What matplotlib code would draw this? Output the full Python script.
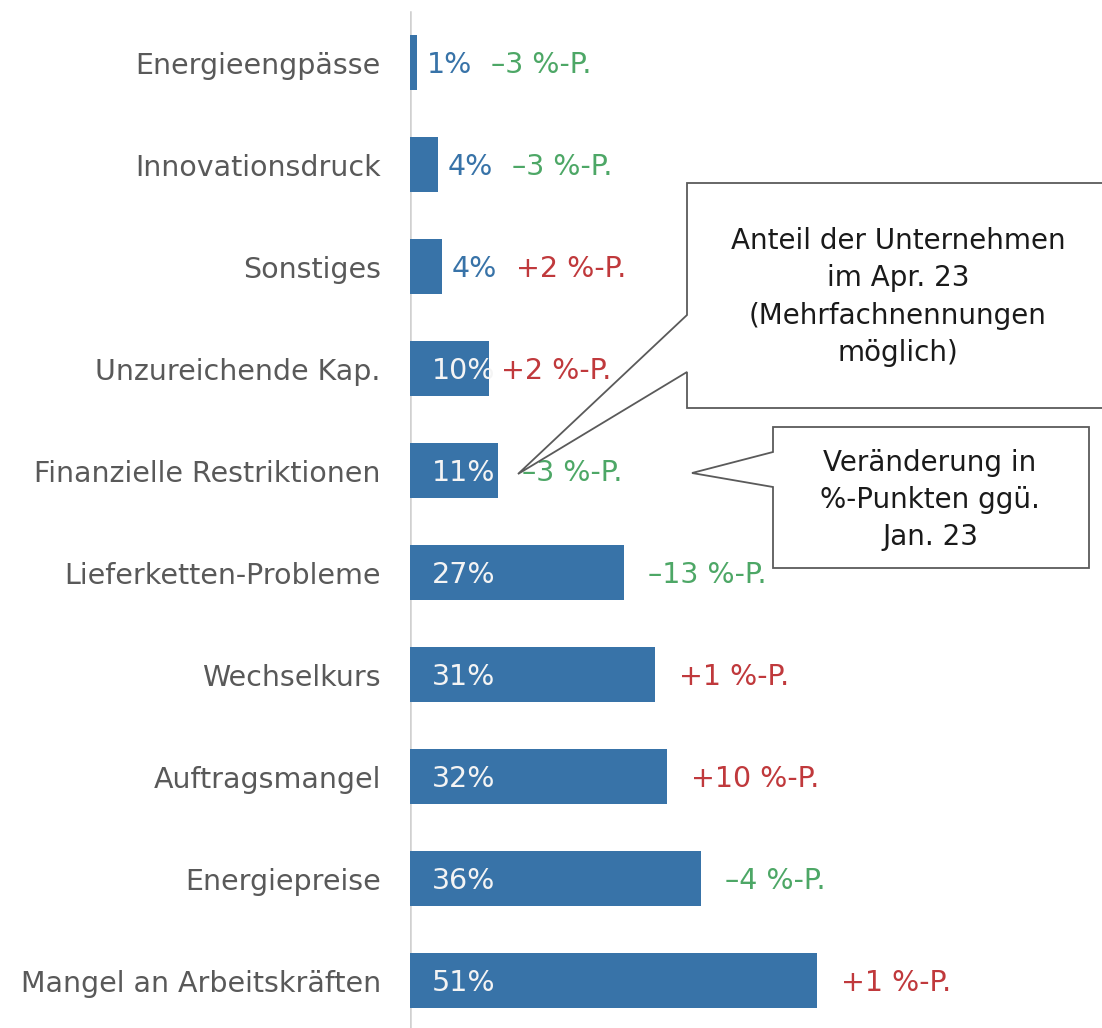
import matplotlib
matplotlib.use("Agg")
import matplotlib.pyplot as plt
from matplotlib.patches import Polygon

# ── data: share of firms naming the obstacle (Apr. 23) and change vs. Jan. 23 ──
categories = [
    "Energieengpässe",
    "Innovationsdruck",
    "Sonstiges",
    "Unzureichende Kap.",
    "Finanzielle Restriktionen",
    "Lieferketten-Probleme",
    "Wechselkurs",
    "Auftragsmangel",
    "Energiepreise",
    "Mangel an Arbeitskräften",
]
share = [0.9, 3.5, 4.0, 9.9, 11.0, 26.8, 30.6, 32.1, 36.4, 50.9]   # %
change = [-3, -3, 2, 2, -3, -13, 1, 10, -4, 1]                     # %-points

callout_share = "Anteil der Unternehmen\nim Apr. 23\n(Mehrfachnennungen\nmöglich)"
callout_change = "Veränderung in\n%-Punkten ggü.\nJan. 23"

BLUE = "#3873a8"
GREEN = "#4da766"
RED = "#c0393c"
GREY = "#595959"
FONT = 20.5

W, H = 1102, 1028
X0 = 410          # pixel position of the zero line
PX = 8.0          # pixels per percentage point
ROW0, STEP = 62.5, 102.0
DY = 2.5 / STEP   # small downward nudge for the bar labels

fig = plt.figure(figsize=(W / 100, H / 100), dpi=100)
fig.patch.set_facecolor("white")
ax = fig.add_axes([X0 / W, 0, 1 - X0 / W, 1])
ax.set_xlim(0, (W - X0) / PX)
ax.set_ylim((H - ROW0) / STEP, -ROW0 / STEP)

rows = list(range(len(categories)))
ax.barh(rows, share, height=0.54, color=BLUE, zorder=2)

for s in ax.spines.values():
    s.set_visible(False)
ax.axvline(0, ymin=0, ymax=1 - 12 / H, color="#d0d0d0", lw=1.8, zorder=1)
ax.set_xticks([])
ax.set_yticks(rows, categories)
ax.tick_params(axis="y", length=0, pad=21, labelsize=FONT, labelcolor=GREY)

# pixel nudges for the change labels
chg_gap = {3: 12}

for i, (v, c) in enumerate(zip(share, change)):
    shown = round(v)
    y = i + DY
    if shown >= 10:
        ax.text(22 / PX, y, f"{shown}%", ha="left", va="center", fontsize=FONT,
                color="#f4f4f4", zorder=3)
        cx = v + chg_gap.get(i, 24) / PX
    else:
        vx = v + 10 / PX
        ax.text(vx, y, f"{shown}%", ha="left", va="center", fontsize=FONT,
                color=BLUE, zorder=3)
        cx = vx + 64 / PX
    sign = "+" if c > 0 else "\u2013"
    ax.text(cx, y, f"{sign}{abs(c)} %-P.", ha="left", va="center",
            fontsize=FONT, color=RED if c > 0 else GREEN, zorder=3)


# ── callouts (pixel coordinates, origin top-left) ──
def px(points):
    return [(x / W, 1 - y / H) for x, y in points]


box1 = [(687, 183), (1115, 183), (1115, 408), (687, 408), (687, 372),
        (518, 474), (687, 315)]
box2 = [(773, 427), (1089, 427), (1089, 568), (773, 568), (773, 487),
        (692, 473), (773, 452)]
for pts in (box1, box2):
    ax.add_patch(Polygon(px(pts), closed=True, transform=fig.transFigure,
                         facecolor="white", edgecolor="#5a5a5a", lw=1.3,
                         zorder=4, clip_on=False))

ax.text(898 / W, 1 - 297 / H, callout_share, transform=fig.transFigure,
        ha="center", va="center", fontsize=20, color="#1a1a1a",
        linespacing=1.42, zorder=5)
ax.text(930 / W, 1 - 500 / H, callout_change, transform=fig.transFigure,
        ha="center", va="center", fontsize=20, color="#1a1a1a",
        linespacing=1.42, zorder=5)

fig.savefig("out.png", dpi=100, facecolor="white")
